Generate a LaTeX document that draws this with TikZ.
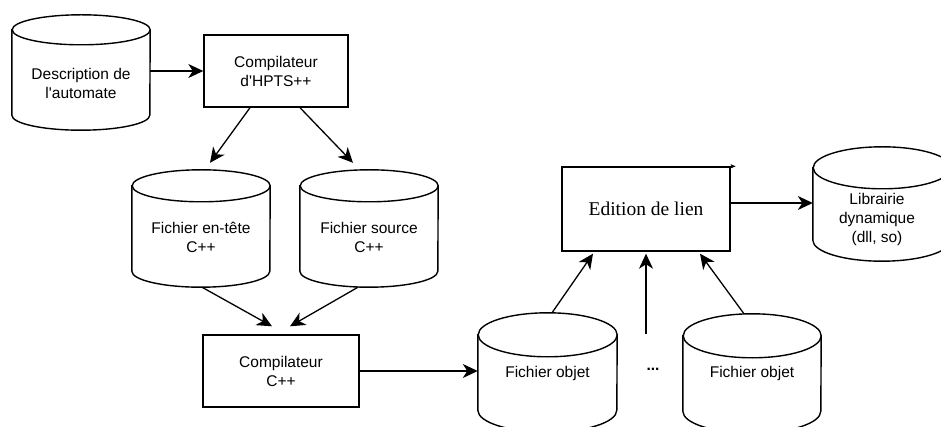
\documentclass[tikz,border=0pt]{standalone}
\usepackage{fontspec}
\setmainfont{Liberation Sans}
\newfontfamily\edfont{Liberation Serif}
\usetikzlibrary{arrows.meta,calc}
\tikzset{
  box/.style={draw, line width=1.4pt, rectangle, align=center, inner sep=0pt,
              font=\fontsize{15.5}{19}\selectfont},
  lbl/.style={align=center, inner sep=0pt, font=\fontsize{15.5}{19}\selectfont},
  cylframe/.style={draw=none, rectangle, inner sep=0pt},
  cylline/.style={line width=1.4pt},
  arr/.style={line width=1.3pt, -{Stealth[length=15pt,width=14pt,inset=4.5pt]}},
  tinyarr/.style={line width=1pt, -{Stealth[length=5pt,width=4pt,inset=1pt]}},
}
% #1 name, #2 left, #3 top, #4 right, #5 bottom, #6 ry  (image coordinates, y downwards)
\newcommand\mycyl[6]{%
  \node[cylframe, minimum width={(#4-#2)*1pt}, minimum height={(#5-#3)*1pt}] (#1)
    at ({(#2+#4)/2},{-(#3+#5)/2}) {};
  \draw[cylline, fill=white] ($(#1.north west)+(0pt,-#6pt)$)
    -- ($(#1.south west)+(0pt,#6pt)$)
    arc[start angle=180, end angle=360, x radius={(#4-#2)/2*1pt}, y radius=#6pt]
    -- ($(#1.north east)+(0pt,-#6pt)$)
    arc[start angle=0, end angle=180, x radius={(#4-#2)/2*1pt}, y radius=#6pt]
    -- cycle;
  \draw[cylline] ($(#1.north east)+(0pt,-#6pt)$)
    arc[start angle=0, end angle=-180, x radius={(#4-#2)/2*1pt}, y radius=#6pt];
}
\begin{document}
\begin{tikzpicture}[x=1pt, y=1pt]
  \useasboundingbox (0,0) rectangle (941,-427);
  \clip (0,0) rectangle (941,-427);

  % cylinders
  \mycyl{desc}{12}{15}{150}{130}{15}
  \mycyl{hdr}{132}{170}{270}{287}{16}
  \mycyl{src}{300}{170}{438}{287}{16}
  \mycyl{lib}{813}{147}{951}{261}{21}
  \mycyl{obja}{478}{313}{617}{432}{22}
  \mycyl{objb}{683}{314}{821}{433}{22}

  % cylinder texts
  \node[lbl] (desctxt) at (81,-83) {Description de\\l\textquotesingle automate};
  \node[lbl] (hdrtxt) at (201,-237) {Fichier en-tête\\C++};
  \node[lbl] (srctxt) at (369,-237) {Fichier source\\C++};
  \node[lbl] (libtxt) at (877,-219) {Librairie\\dynamique\\(dll, so)};
  \node[lbl] (objatxt) at (547.5,-373) {Fichier objet};
  \node[lbl] (objbtxt) at (752,-373) {Fichier objet};
  \node[lbl, font=\bfseries\fontsize{15.5}{19}\selectfont] (dots) at (653,-369) {...};

  % boxes
  \node[box, minimum width=144pt, minimum height=72pt] (hpts) at (276,-71)
    {Compilateur\\d\textquotesingle HPTS++};
  \node[box, minimum width=156pt, minimum height=72pt] (cpp) at (281,-371)
    {Compilateur\\C++};
  \node[box, minimum width=168pt, minimum height=84pt,
        font=\edfont\fontsize{19.5}{23}\selectfont] (link) at (646,-209)
    {Edition de lien};

  % connectors
  \draw[arr] (desc.east |- hpts.west) -- (hpts.west);
  \draw[arr] ([xshift=-26pt]hpts.south) -- ([xshift=9pt,yshift=7pt]hdr.north);
  \draw[arr] ([xshift=24pt]hpts.south) -- ([xshift=-16pt,yshift=7pt]src.north);
  \draw[arr] ([xshift=1pt]hdr.south) -- ([xshift=-9pt,yshift=8pt]cpp.north);
  \draw[arr] ([xshift=-11pt]src.south) -- ([xshift=9pt,yshift=8pt]cpp.north);
  \draw[arr] (cpp.east) -- (cpp.east -| obja.west);
  \draw[arr] ([xshift=4.5pt]obja.north) -- ([xshift=-53pt,yshift=-2pt]link.south);
  \coordinate (midstart) at (646,-334);
  \draw[arr] (midstart) -- ([yshift=-2pt]link.south);
  \draw[arr] ([xshift=-8pt]objb.north) -- ([xshift=54pt,yshift=-2pt]link.south);
  \draw[arr] ([yshift=6pt]link.east) -- ([yshift=6pt]link.east -| lib.west);
  \draw[tinyarr] (link.north east) -- ++(5pt,0pt);
\end{tikzpicture}
\end{document}
